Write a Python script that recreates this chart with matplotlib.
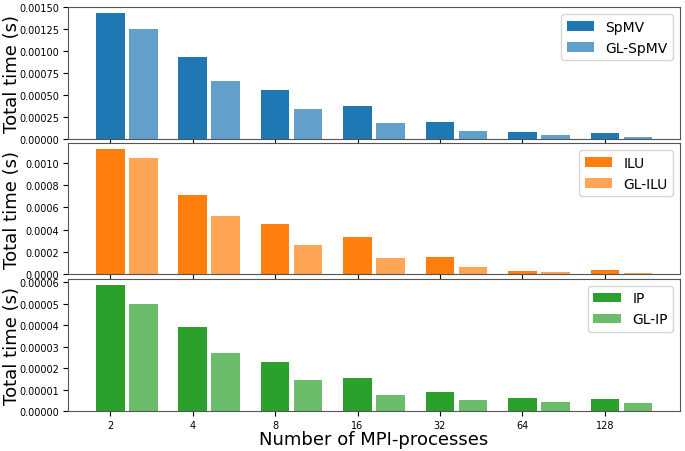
import matplotlib
matplotlib.use("Agg")
import matplotlib.pyplot as plt
import numpy as np

procs = ["2", "4", "8", "16", "32", "64", "128"]

spmv    = [0.001435, 0.000932, 0.000554, 0.000375, 0.000185, 0.000078, 0.000066]
gl_spmv = [0.001255, 0.000661, 0.000337, 0.000177, 0.000082, 0.000037, 0.000020]

ilu     = [0.00112, 0.000711, 0.000448, 0.000332, 0.000152, 0.000032, 0.000038]
gl_ilu  = [0.00104, 0.000520, 0.000263, 0.000143, 0.000068, 0.000020, 0.000012]

ip      = [0.0000586, 0.0000391, 0.0000229, 0.0000153, 0.0000088, 0.0000060, 0.0000056]
gl_ip   = [0.0000496, 0.0000271, 0.0000146, 0.0000076, 0.0000053, 0.0000043, 0.0000039]

panels = [
    (spmv, gl_spmv, "SpMV", "GL-SpMV", "tab:blue"),
    (ilu, gl_ilu, "ILU", "GL-ILU", "tab:orange"),
    (ip, gl_ip, "IP", "GL-IP", "tab:green"),
]

fig = plt.figure(figsize=(6.85, 4.52), dpi=100)
boxes = [
    (0.099, 0.691, 0.894, 0.291),
    (0.099, 0.391, 0.894, 0.290),
    (0.099, 0.088, 0.894, 0.293),
]
x = np.arange(len(procs))
w = 0.35
fmts = ["%.5f", "%.4f", "%.5f"]
axes = []
for (a, b, la, lb, c), box, fm in zip(panels, boxes, fmts):
    ax = fig.add_axes(box)
    ax.bar(x, a, w, color=c, label=la)
    ax.bar(x + 0.4, b, w, color=c, alpha=0.7, label=lb)
    ax.set_xticks(x)
    ax.set_ylabel("Total time (s)", fontsize=13)
    ax.yaxis.set_label_coords(-0.077, 0.5)
    ax.tick_params(labelsize=7, width=0.8, length=3.5, pad=2.5)
    ax.yaxis.set_major_formatter(matplotlib.ticker.FormatStrFormatter(fm))
    ax.legend(loc="upper right", fontsize=10)
    for s in ax.spines.values():
        s.set_color("#555555")
    axes.append(ax)

axes[0].set_xticklabels([])
axes[1].set_xticklabels([])
axes[2].set_xticklabels(procs)
axes[0].set_yticks(np.arange(0, 0.00151, 0.00025))
axes[0].set_ylim(0, 0.0015)
axes[1].set_yticks(np.arange(0, 0.00101, 0.0002))
axes[2].set_yticks(np.arange(0, 0.0000601, 0.00001))
axes[2].set_xlabel("Number of MPI-processes", fontsize=13)
axes[2].xaxis.set_label_coords(0.5, -0.14)

fig.savefig("out.png", dpi=100)
